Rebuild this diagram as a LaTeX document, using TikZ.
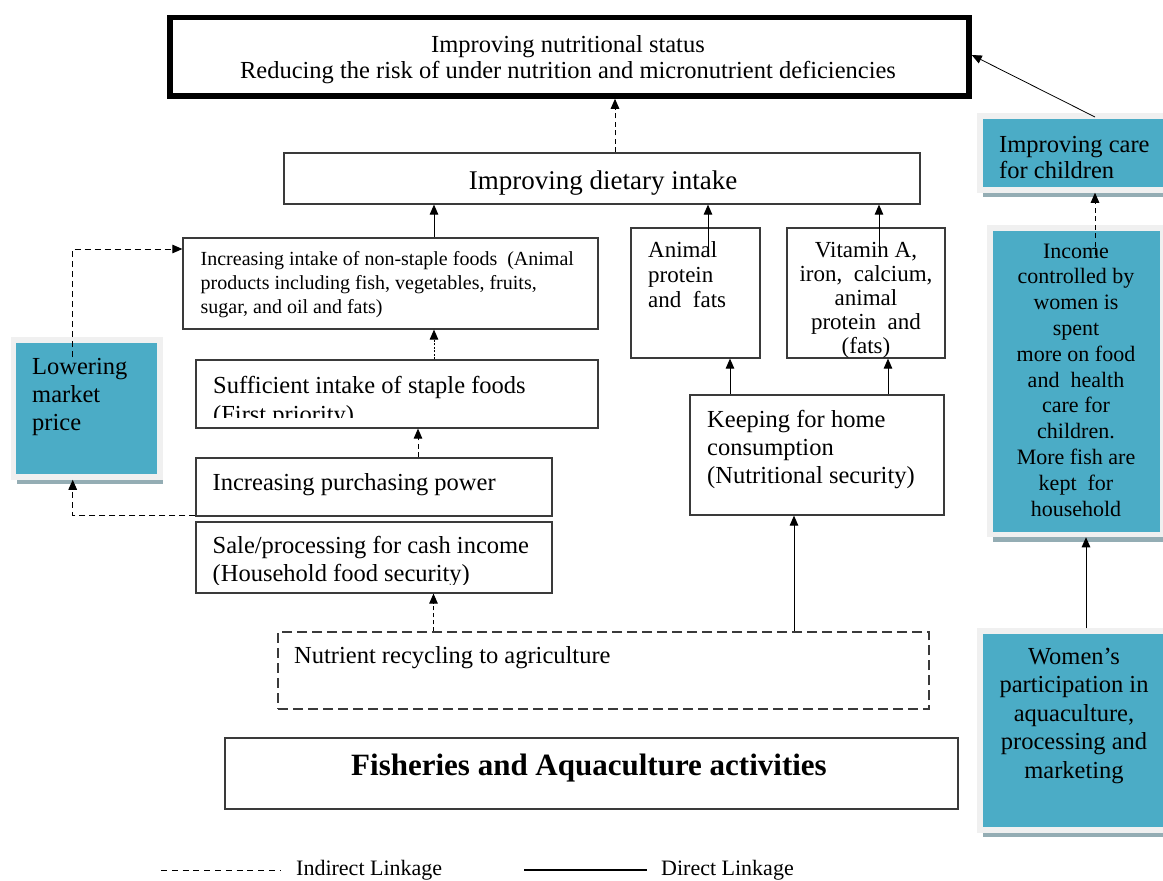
\documentclass[tikz,border=0pt]{standalone}
\usepackage{fontspec}
\setmainfont{Liberation Serif}
\usetikzlibrary{arrows.meta,calc,shadows}
\definecolor{aqua}{HTML}{4BACC6}
\definecolor{lightb}{HTML}{F0F0F0}
\definecolor{shad}{HTML}{94ADB4}
\definecolor{edge}{HTML}{3A3A3A}
\begin{document}
\begin{tikzpicture}[x=1pt,y=-1pt,
  box/.style={draw=edge, line width=1.2pt, inner sep=0pt},
  dbox/.style={draw=edge, line width=1.2pt, inner sep=0pt, dash pattern=on 10pt off 5pt},
  bluebox/.style={draw=lightb, fill=aqua, line width=5.5pt, inner sep=0pt,
    drop shadow={shadow xshift=3pt, shadow yshift=-7pt, fill=shad, opacity=1}},
  t/.style={inner sep=0pt, anchor=base west},
  tc/.style={inner sep=0pt, anchor=base},
  fA/.style={font=\fontsize{24.5}{28}\selectfont},
  fB/.style={font=\fontsize{23}{26}\selectfont},
  fS/.style={font=\fontsize{20}{24}\selectfont},
  fI/.style={font=\fontsize{22}{25}\selectfont},
  fD/.style={font=\fontsize{27}{30}\selectfont},
  fF/.style={font=\fontsize{31}{34}\selectfont\bfseries},
  arr/.style={-{Triangle[length=10pt,width=8.5pt]}, line width=1pt, draw=black},
  ind/.style={dash pattern=on 5pt off 3.5pt},
  dotd/.style={dash pattern=on 2pt off 1.5pt}]
\fill[white] (0,0) rectangle (1163,881);
\useasboundingbox (0,0) rectangle (1163,881);

% ---- white boxes ----
\node[box, draw=black, line width=5.5pt, minimum width=799pt, minimum height=78.5pt] (top) at (569.5,56.75) {};
\node[box, minimum width=636pt, minimum height=51pt] (diet) at (602,178.5) {};
\node[box, minimum width=415pt, minimum height=91pt] (nonst) at (390.5,283.5) {};
\node[box, minimum width=129pt, minimum height=130pt] (animal) at (695.5,293) {};
\node[box, minimum width=158pt, minimum height=130pt] (vitamin) at (866,293) {};
\node[box, minimum width=402pt, minimum height=68pt] (staple) at (397,394) {};
\node[box, minimum width=356pt, minimum height=58pt] (purch) at (374,487) {};
\node[box, minimum width=356pt, minimum height=71pt] (sale) at (374,557.5) {};
\node[box, minimum width=254pt, minimum height=120pt] (keep) at (817,455) {};
\node[dbox, minimum width=651pt, minimum height=77pt] (nutr) at (603.5,670.5) {};
\node[box, minimum width=733pt, minimum height=71pt] (fish) at (591.5,773.5) {};

% ---- blue boxes ----
\node[bluebox, minimum width=146.5pt, minimum height=137pt] (low) at (86.75,408.5) {};
\node[bluebox, minimum width=195pt, minimum height=74pt] (care) at (1077.5,153) {};
\node[bluebox, minimum width=173pt, minimum height=306.5pt] (income) at (1076.5,381.25) {};
\node[bluebox, minimum width=195pt, minimum height=199pt] (women) at (1077.5,730.5) {};

% ---- texts ----
\node[tc,fA] (topt1) at (568,52) {Improving nutritional status};
\node[tc,fA] (topt2) at (568,78) {Reducing the risk of under nutrition and micronutrient deficiencies};
\node[tc,fD] (dietT) at (603,189) {Improving dietary intake};
\foreach \s [count=\i] in {{Increasing intake of non-staple foods~ (Animal},{products including fish, vegetables, fruits,},{sugar, and oil and fats)}}
  \node[t,fS] (nonT\i) at (200.5,{265+24*(\i-1)}) {\s};
\foreach \s [count=\i] in {Animal,protein,{and~ fats}}
  \node[t,fB] (aniT\i) at (648,{257+25*(\i-1)}) {\s};
\foreach \s [count=\i] in {{Vitamin A,},{iron,~ calcium,},animal,{protein~ and},(fats)}
  \node[tc,fB] (vitT\i) at (866,{257+24*(\i-1)}) {\s};
\node[t,fA] (stapT1) at (213,393) {Sufficient intake of staple foods};
\begin{scope}
  \clip (197,361) rectangle (597,417);
  \node[t,fA] (stapT2) at (213,422) {(First priority)};
\end{scope}
\node[t,fA] (purchT) at (212.5,490) {Increasing purchasing power};
\node[t,fA] (saleT1) at (212.5,553) {Sale/processing for cash income};
\begin{scope}
  \clip (197,523) rectangle (551,584);
  \node[t,fA] (saleT2) at (212.5,581) {(Household food security)};
\end{scope}
\foreach \s [count=\i] in {{Keeping for home},consumption,{(Nutritional security)}}
  \node[t,fA] (keepT\i) at (707,{427+28*(\i-1)}) {\s};
\node[t,fA] (nutrT) at (294,663) {Nutrient recycling to agriculture};
\node[tc,fF] (fishT) at (589,775) {Fisheries and Aquaculture activities};
\foreach \s [count=\i] in {Lowering,market,price}
  \node[t,fA] (lowT\i) at (32,{374+28*(\i-1)}) {\s};
\foreach \s [count=\i] in {{Improving care},{for children}}
  \node[t,fA] (careT\i) at (999,{152+26*(\i-1)}) {\s};
\foreach \s [count=\i] in {Income,{controlled by},{women is},spent,{more on food},{and~ health},{care for},children.,{More fish are},{kept~ for},household}
  \node[tc,fI] (incT\i) at (1076,{258+25.8*(\i-1)}) {\s};
\foreach \s [count=\i] in {Women’s,{participation in},{aquaculture,},{processing and},marketing}
  \node[tc,fA] (womT\i) at (1074,{664+28.5*(\i-1)}) {\s};

% ---- helper coordinates ----
\coordinate (x615) at (615,0);
\coordinate (x434) at (434,0);
\coordinate (x418) at (418,0);
\coordinate (x433) at (433.5,0);
\coordinate (x794) at (794,0);
\coordinate (x730) at (730,0);
\coordinate (x888) at (888,0);
\coordinate (x1086) at (1086,0);
\coordinate (aniIn) at (708,250);
\coordinate (vitIn) at (879,254);
\coordinate (lowIn) at (72.7,357);
\coordinate (y249) at (0,249);
\coordinate (y515) at (0,515);
\coordinate (careN) at (1095,117);
\coordinate (y55) at (0,55);
\coordinate (incIn) at (1095,255);

% ---- connectors ----
\draw[arr,ind] (diet.north -| x615) -- (top.south -| x615);
\draw[arr] (nonst.north -| x434) -- (diet.south -| x434);
\draw[arr] (aniIn) -- (diet.south -| aniIn);
\draw[arr] (vitIn) -- (diet.south -| vitIn);
\draw[arr,dotd] (staple.north -| x434) -- (nonst.south -| x434);
\draw[arr,ind] (purch.north -| x418) -- (staple.south -| x418);
\draw[arr,dash pattern=on 4pt off 3pt] (nutr.north -| x433) -- (sale.south -| x433);
\draw[arr] (nutr.north -| x794) -- (keep.south -| x794);
\draw[arr] (keep.north -| x730) -- (animal.south -| x730);
\draw[arr] (keep.north -| x888) -- (vitamin.south -| x888);
\draw[arr,dash pattern=on 6pt off 4pt] (lowIn) -- (lowIn |- y249) -- (nonst.west |- y249);
\draw[arr,dash pattern=on 6pt off 4pt] (purch.west |- y515) -- (lowIn |- y515) -- (low.south -| lowIn);
\draw[arr,line width=0.8pt] (careN) -- (top.east |- y55);
\draw[arr,ind] (incIn) -- (care.south -| incIn);
\draw[arr] (women.north -| x1086) -- (income.south -| x1086);

% ---- legend ----
\coordinate (lgA) at (161,870);
\coordinate (lgB) at (281,870);
\coordinate (lgC) at (524,870);
\coordinate (lgD) at (647,870);
\draw[dash pattern=on 6pt off 4.8pt, line width=1pt] (lgA) -- (lgB);
\draw[line width=2.5pt] (lgC) -- (lgD);
\node[t,fI] (lg1) at (296,875) {Indirect Linkage};
\node[t,fI] (lg2) at (661,875) {Direct Linkage};
\end{tikzpicture}
\end{document}
